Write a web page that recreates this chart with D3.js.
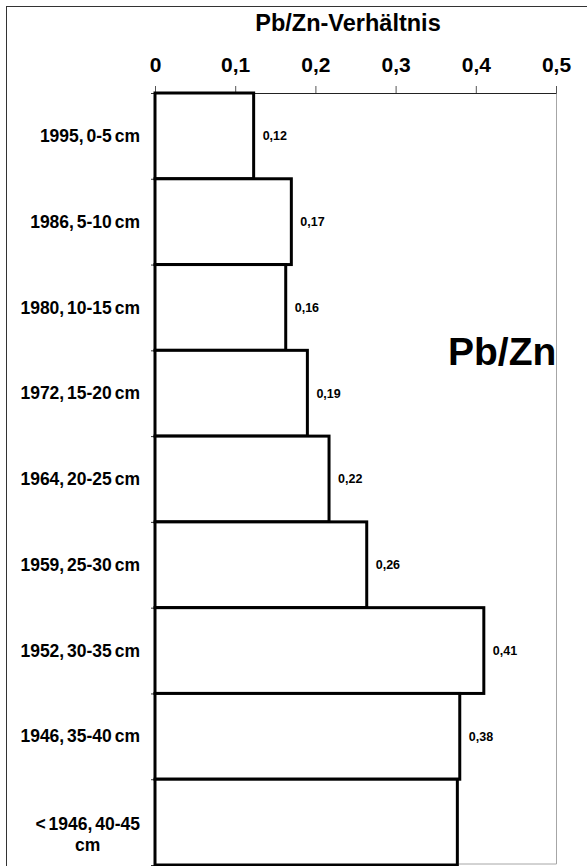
<!DOCTYPE html>
<html>
<head>
<meta charset="utf-8">
<script src="https://cdn.jsdelivr.net/npm/d3@7"></script>
<style>
  body { margin: 0; background: #fff; }
  svg { display: block; font-family: "Liberation Sans", Arial, sans-serif; font-weight: bold; }
</style>
</head>
<body>
<svg width="587" height="866"></svg>
<script>
// Pb/Zn ratio per sediment layer
const categories = [
    "1995, 0-5 cm",
    "1986, 5-10 cm",
    "1980, 10-15 cm",
    "1972, 15-20 cm",
    "1964, 20-25 cm",
    "1959, 25-30 cm",
    "1952, 30-35 cm",
    "1946, 35-40 cm",
    "< 1946, 40-45 cm"
];
const ratios = [0.123, 0.17, 0.163, 0.19, 0.217, 0.264, 0.41, 0.38, 0.377];
const showLabel = [true, true, true, true, true, true, true, true, false];
const xTicks = [0, 0.1, 0.2, 0.3, 0.4, 0.5];

const fmt = v => d3.format(".2f")(v).replace(".", ",");
const tickFmt = v => v === 0 ? "0" : d3.format(".1f")(v).replace(".", ",");

function drawChart() {
    var svg = d3.select("svg");
    var plot = { left: 155, right: 556, top: 93, bottom: 865 };

    // outer frame (only left and top edges are inside the picture)
    svg.append("rect")
        .attr("x", 6.5).attr("y", 6.5)
        .attr("width", 600).attr("height", 900)
        .attr("fill", "#fff")
        .attr("stroke", "#333")
        .attr("stroke-width", 1);

    var x = d3.scaleLinear()
        .domain([0, 0.5])
        .range([plot.left, plot.right]);

    var y = d3.scaleBand()
        .domain(categories)
        .range([plot.top, plot.bottom])
        .padding(0);

    // plot area border (grey)
    svg.append("path")
        .attr("d", "M" + plot.right + "," + plot.top + "V" + (plot.bottom - 1) + "H" + plot.left)
        .attr("fill", "none")
        .attr("stroke", "#a6a6a6")
        .attr("stroke-width", 1)
        .attr("transform", "translate(0.5,0)");

    // title
    svg.append("text")
        .attr("x", 348)
        .attr("y", 31)
        .attr("text-anchor", "middle")
        .style("font-size", "23.5px")
        .text("Pb/Zn-Verhältnis");

    // top axis
    var xAxis = svg.append("g")
        .attr("transform", "translate(0," + plot.top + ")")
        .call(d3.axisTop(x).tickValues(xTicks).tickFormat(tickFmt).tickSize(7).tickSizeOuter(0).tickPadding(14));
    xAxis.select(".domain").attr("stroke", "#222");
    xAxis.selectAll(".tick line").attr("stroke", "#555");
    xAxis.selectAll("text")
        .attr("fill", "#000")
        .style("font-size", "21px")
        .style("font-family", "Liberation Sans, Arial, sans-serif")
        .style("font-weight", "bold");

    // left axis, ticks on category boundaries
    var yIdx = d3.scaleLinear().domain([0, categories.length]).range([plot.top, plot.bottom]);
    var yAxis = svg.append("g")
        .attr("transform", "translate(" + plot.left + ",0)")
        .call(d3.axisLeft(yIdx).tickValues(d3.range(categories.length + 1)).tickFormat("").tickSize(4).tickSizeOuter(0));
    yAxis.select(".domain").remove();
    yAxis.selectAll(".tick line").attr("stroke", "#333");

    // bars
    svg.append("g").selectAll("rect")
        .data(categories)
        .join("rect")
        .attr("x", x(0))
        .attr("y", d => y(d))
        .attr("width", (d, i) => x(ratios[i]) - x(0))
        .attr("height", y.bandwidth())
        .attr("fill", "#fff")
        .attr("stroke", "#000")
        .attr("stroke-width", 3);

    // value labels
    svg.append("g").selectAll("text")
        .data(categories.filter((d, i) => showLabel[i]))
        .join("text")
        .attr("x", d => x(ratios[categories.indexOf(d)]) + 9)
        .attr("y", d => y(d) + y.bandwidth() / 2)
        .attr("dy", "0.35em")
        .style("font-size", "12.5px")
        .text(d => fmt(ratios[categories.indexOf(d)]));

    // category labels
    var labelRight = 140;
    var labels = svg.append("g").selectAll("text")
        .data(categories)
        .join("text")
        .style("font-size", "17.5px")
        .style("word-spacing", "-2px")
        .attr("y", d => y(d) + y.bandwidth() / 2)
        .attr("dy", "0.35em")
        .attr("x", labelRight)
        .attr("text-anchor", "end")
        .text(d => d);

    labels.each(function (d) {
        var t = d3.select(this);
        if (this.getComputedTextLength() > 128) {
            var cut = d.lastIndexOf(" ");
            var lines = [d.slice(0, cut), d.slice(cut + 1)];
            var cy = y(d) + y.bandwidth() / 2;
            t.text(null).attr("dy", null).attr("y", null);
            lines.forEach(function (ln, k) {
                t.append("tspan").attr("y", cy + 8 + k * 21).text(ln);
            });
            var w = this.querySelector("tspan").getComputedTextLength();
            t.attr("text-anchor", "middle");
            t.selectAll("tspan").attr("x", labelRight - w / 2);
        }
    });

    // series name
    svg.append("text")
        .attr("x", 448)
        .attr("y", 365)
        .style("font-size", "39px")
        .text("Pb/Zn");
}

drawChart();
</script>
</body>
</html>
